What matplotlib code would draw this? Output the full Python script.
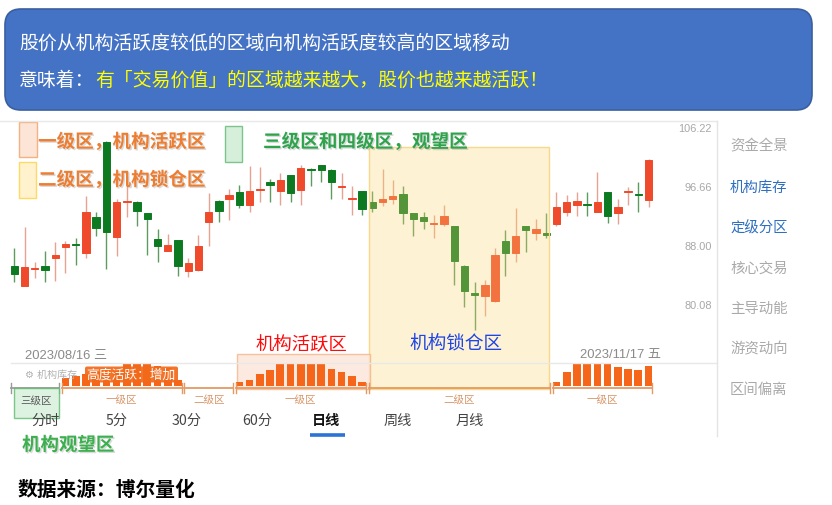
import matplotlib
matplotlib.use('Agg')
import matplotlib.pyplot as plt
import matplotlib.patches as mpatches
import matplotlib.patheffects as pe
from matplotlib.transforms import blended_transform_factory as btf
import numpy as np

plt.rcParams['font.family'] = ['Noto Sans CJK SC', 'DejaVu Sans']

# ---------------- data ----------------
opens = [85.18, 82.58, 84.77, 85.22, 86.36, 87.81, 88.32, 87.05, 92.12, 103.97,
         89.22, 94.36, 94.45, 92.72, 88.98, 87.33, 88.80, 84.50, 84.68, 91.43,
         94.60, 94.91, 95.98, 93.96, 96.24, 97.52, 96.08, 98.62, 96.24, 99.52,
         100.16, 99.36, 96.70, 94.86, 96.04, 94.45, 94.41, 94.86, 95.58, 92.72,
         92.17, 91.10, 91.10, 90.79, 85.27, 81.58, 81.27, 80.61, 88.74, 87.01,
         90.83, 89.84, 89.80, 91.14, 92.95, 94.00, 94.11, 92.95, 95.89, 92.76,
         95.89, 95.67, 94.75]
highs = [87.67, 90.66, 85.72, 87.29, 88.51, 88.66, 89.08, 95.36, 92.95, 104.10,
         94.86, 98.37, 94.50, 92.75, 90.41, 89.70, 88.85, 86.28, 89.55, 95.78,
         94.65, 96.39, 97.01, 100.05, 99.79, 97.94, 98.84, 98.65, 100.16, 99.63,
         100.20, 99.52, 98.89, 96.81, 96.05, 96.13, 99.52, 97.83, 96.90, 92.75,
         92.86, 92.46, 93.96, 90.80, 85.30, 83.10, 83.29, 87.67, 90.31, 93.45,
         90.85, 91.87, 92.76, 95.98, 95.48, 95.89, 95.98, 99.00, 95.90, 94.86,
         96.75, 97.42, 101.10]
lows = [83.10, 82.50, 83.60, 83.02, 83.24, 84.27, 85.36, 86.28, 89.37, 84.81,
        86.56, 92.12, 90.88, 86.74, 85.72, 87.30, 83.90, 83.69, 84.60, 88.03,
        91.39, 91.77, 93.55, 92.95, 94.45, 94.45, 93.96, 94.36, 93.96, 96.90,
        97.42, 94.86, 94.86, 92.46, 92.46, 92.91, 93.80, 94.11, 91.14, 89.37,
        90.41, 89.17, 90.79, 82.67, 79.84, 76.95, 78.70, 80.41, 83.90, 85.80,
        87.19, 88.88, 89.08, 90.83, 92.27, 92.36, 92.36, 92.90, 91.29, 91.14,
        94.00, 92.95, 93.71]
closes = [84.13, 85.13, 84.91, 84.72, 86.69, 88.32, 88.14, 92.91, 90.51, 89.98,
          94.45, 94.56, 93.10, 91.87, 87.95, 88.18, 85.27, 85.58, 88.03, 92.91,
          93.10, 95.52, 94.00, 96.13, 96.44, 97.05, 97.78, 95.78, 99.63, 99.31,
          99.36, 97.42, 96.90, 95.07, 93.35, 93.50, 94.91, 95.27, 92.76, 91.87,
          91.53, 91.29, 92.27, 85.90, 81.88, 81.40, 82.71, 86.78, 86.97, 89.37,
          90.27, 90.41, 89.60, 93.72, 94.36, 94.51, 93.91, 94.45, 92.36, 93.61,
          96.08, 95.43, 101.02]
# institutional activity (0-100), 0 where no bar is drawn
activity = ([0, 0, 0, 0, 0] +
            [35, 43, 55, 65, 75, 77, 100, 100, 100, 90, 80, 26] +
            [0, 0, 0, 0, 0] +
            [15, 28, 54, 74, 100, 100, 100, 100, 100, 77, 65, 43, 18] +
            [0] * 18 +
            [18, 65, 100, 100, 100, 100, 84, 77, 74, 89])
price_ticks = [106.22, 96.66, 88.00, 80.08]
price_tick_labels = ['106.22', '96.66', '88.00', '80.08']
zone_groups = [(0, 4, '三级区'), (5, 16, '一级区'), (17, 21, '二级区'),
               (22, 34, '一级区'), (35, 52, '二级区'), (53, 62, '一级区')]
locked_zone = (34.7, 52.3)     # 二级区, 机构锁仓区 (candle index range)
active_zone = (21.8, 34.75)    # 一级区, 机构活跃区
date_labels = ['2023/08/16 三', '2023/11/17 五']
tabs = ['分时', '5分', '30分', '60分', '日线', '周线', '月线']
side_menu = ['资金全景', '机构库存', '定级分区', '核心交易', '主导动能', '游资动向', '区间偏离']
banner_line1 = '股价从机构活跃度较低的区域向机构活跃度较高的区域移动'
banner_line2a = '意味着：'
banner_line2b = '有「交易价值」的区域越来越大，股价也越来越活跃！'

# ---------------- figure ----------------
W, H = 832, 506
fig = plt.figure(figsize=(W / 100, H / 100), dpi=100)
fig.patch.set_facecolor('white')

def frac_box(x0, y0, x1, y1):
    return [x0 / W, (H - y1) / H, (x1 - x0) / W, (y1 - y0) / H]

n = len(opens)
xi = np.arange(n)
o = np.array(opens); c = np.array(closes); hi = np.array(highs); lo = np.array(lows)
x_left, x_right = -1.398, 68.69

# candle axes
ax = fig.add_axes(frac_box(0, 122, 717, 364))
ax.set_yscale('log')
ax.set_xlim(x_left, x_right)
ax.set_ylim(72.96, 107.47)
ax.axis('off')
ax.patch.set_alpha(0)

RED, GREEN = '#ef4a2b', '#0d7a22'
RED_W, GREEN_W = '#e8a292', '#5c9c5e'
up = c >= o
body_col = np.where(up, RED, GREEN)
wick_col = np.where(up, RED_W, GREEN_W)
ax.vlines(xi, lo, hi, colors=wick_col, lw=1.0, zorder=2)
ax.bar(xi, np.abs(c - o), bottom=np.minimum(o, c), width=0.72,
       color=body_col, edgecolor=body_col, linewidth=0.7, zorder=3)

tr_xa = btf(ax.transData, ax.transAxes)
ax.add_patch(mpatches.Rectangle((locked_zone[0], -0.1074), locked_zone[1] - locked_zone[0], 1.0,
                                transform=tr_xa, facecolor='#fbd571', alpha=0.3,
                                edgecolor='none', zorder=5, clip_on=False))
ax.add_patch(mpatches.Rectangle((locked_zone[0], -0.1074), locked_zone[1] - locked_zone[0], 1.0,
                                transform=tr_xa, fill=False, edgecolor='#f8d88a',
                                lw=1.0, zorder=5, clip_on=False))

tr_ay = btf(ax.transAxes, ax.transData)
for v, lab in zip(price_ticks, price_tick_labels):
    ax.text(0.993, v, lab, transform=tr_ay, ha='right', va='center',
            fontsize=7.9, color='#a8a8a8', family=['Liberation Sans', 'DejaVu Sans'])

# activity axes
axv = fig.add_axes(frac_box(0, 365, 717, 386.7))
axv.set_xlim(x_left, x_right)
axv.set_ylim(0, 100)
axv.axis('off')
axv.patch.set_alpha(0)
act = np.array(activity, dtype=float)
mask = act > 0
axv.bar(xi[mask], act[mask], width=0.75, color='#f5661a', zorder=3)

tr_v = btf(axv.transData, axv.transAxes)
axv.add_patch(mpatches.Rectangle((active_zone[0], -0.152), active_zone[1] - active_zone[0], 1.613,
                                 transform=tr_v, facecolor='#fce4d6', alpha=0.75,
                                 edgecolor='#f4b183', lw=1.0, zorder=1, clip_on=False))
for s, e, lab in zone_groups:
    col = '#9a9a9a' if lab == '三级区' else '#e49a62'
    x0, x1 = s - 0.37, e + 0.37
    axv.plot([x0, x1], [-0.12, -0.12], color=col, lw=1.3, transform=tr_v, clip_on=False, zorder=4)
    for xx in (x0, x1):
        axv.plot([xx, xx], [0.12, -0.34], color=col, lw=1.0, transform=tr_v, clip_on=False, zorder=4)
    if lab != '三级区':
        axv.text((s + e) / 2, -0.62, lab, transform=tr_v, ha='center', va='center',
                 fontsize=7.6, color='#d8976a', zorder=6)

# ---------------- overlay (pixel coordinates) ----------------
ov = fig.add_axes([0, 0, 1, 1], zorder=10)
ov.set_xlim(0, W)
ov.set_ylim(H, 0)
ov.axis('off')
ov.patch.set_alpha(0)

# frame lines
ov.plot([0, 717], [122, 122], color='#e8e8e8', lw=1)
ov.plot([11, 717], [364, 364], color='#e8e8e8', lw=1)
ov.plot([717, 717], [122, 437], color='#e4e4e4', lw=1)

# banner
ov.add_patch(mpatches.FancyBboxPatch((5, 10), 807, 101,
                                     boxstyle='round,pad=0,rounding_size=16',
                                     facecolor='#4472c4', edgecolor='#3a5f9f', lw=1.2))
ov.text(19, 43, banner_line1, fontsize=13.6, color='white', ha='left', va='center')
ov.text(19, 80, banner_line2a, fontsize=13.6, color='white', ha='left', va='center')
ov.text(95, 80, banner_line2b, fontsize=13.6, color='#ffff00', ha='left', va='center')

shadow = [pe.withSimplePatchShadow(offset=(1.0, -1.0), shadow_rgbFace='#8a8a8a', alpha=0.3)]

# legend
ov.add_patch(mpatches.Rectangle((19, 123), 18, 35, facecolor='#fce4d6', edgecolor='#f4b183', lw=1))
ov.add_patch(mpatches.Rectangle((19, 163), 17, 36, facecolor='#fff2cc', edgecolor='#ffd966', lw=1))
ov.add_patch(mpatches.Rectangle((225, 127), 17, 36, facecolor='#d6efdb', edgecolor='#7cc48c', lw=1))
ov.text(38, 143, '一级区，机构活跃区', fontsize=13.4, color='#ed7d31', weight='bold',
        ha='left', va='center', path_effects=shadow)
ov.text(38, 181, '二级区，机构锁仓区', fontsize=13.4, color='#ed7d31', weight='bold',
        ha='left', va='center', path_effects=shadow)
ov.text(263, 143, '三级区和四级区，观望区', fontsize=13.4, color='#2ea34c', weight='bold',
        ha='left', va='center', path_effects=shadow)

# zone names
ov.text(256, 345, '机构活跃区', fontsize=13.2, color='#ff0a0a', ha='left', va='center')
ov.text(409, 344, '机构锁仓区', fontsize=13.4, color='#1f45e6', ha='left', va='center')

# dates
ov.text(25, 356, date_labels[0], fontsize=9.4, color='#8a8a8a', ha='left', va='center',
        family=['Liberation Sans', 'Noto Sans CJK SC'])
ov.text(580, 355, date_labels[1], fontsize=9.4, color='#8a8a8a', ha='left', va='center',
        family=['Liberation Sans', 'Noto Sans CJK SC'])

# inventory caption and activity badge
ov.text(25, 375, '⚙ 机构库存', fontsize=7.2, color='#b0b0b0', ha='left', va='center',
        family=['DejaVu Sans', 'Noto Sans CJK SC'])
ov.add_patch(mpatches.FancyBboxPatch((85, 367.5), 93, 16, boxstyle='round,pad=0,rounding_size=2',
                                     facecolor='#f26a1b', edgecolor='none', alpha=0.93))
ov.text(131, 375.5, '高度活跃：增加', fontsize=9.2, color='white', ha='center', va='center')

# 三级区 box
ov.add_patch(mpatches.Rectangle((14, 389), 45, 30, facecolor='#d6efdb', edgecolor='#5dbb6f',
                                lw=1, alpha=0.8))
ov.text(36.5, 401, '三级区', fontsize=7.6, color='#5a5a5a', ha='center', va='center')

# tabs
tab_x = [45.8, 116.3, 186.7, 257.3, 326, 397.7, 469.3]
for tx, lab in zip(tab_x, tabs):
    sel = lab == '日线'
    ov.text(tx, 421, lab, fontsize=10.2, color='#111111' if sel else '#444444',
            weight='bold' if sel else 'normal', ha='center', va='center',
            family=['Noto Sans CJK SC', 'DejaVu Sans'])
ov.plot([310, 345], [435.5, 435.5], color='#2b74d6', lw=2.6, solid_capstyle='butt')

ov.text(22, 446, '机构观望区', fontsize=13.3, color='#3cb04f', weight='bold',
        ha='left', va='center', path_effects=shadow)
ov.text(18, 490, '数据来源：博尔量化', fontsize=14.2, color='black', weight='bold',
        ha='left', va='center')

# side menu
menu_y = [146.7, 187.7, 228.3, 268.3, 309, 349, 390]
for my, lab in zip(menu_y, side_menu):
    col = '#2f6fc0' if lab in ('机构库存', '定级分区') else '#a9a9a9'
    ov.text(730, my, lab, fontsize=10.4, color=col, ha='left', va='center')

fig.savefig('out.png', dpi=100)
